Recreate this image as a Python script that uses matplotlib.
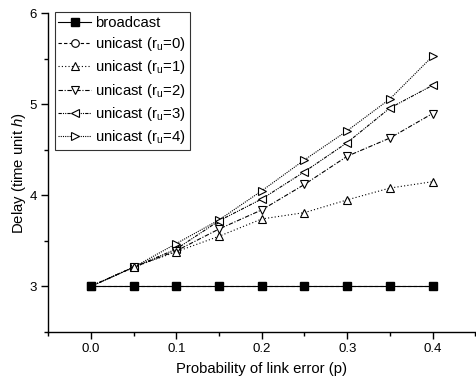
import matplotlib
matplotlib.use("Agg")
import matplotlib.pyplot as plt
from matplotlib.ticker import MultipleLocator

plt.rcParams['font.family'] = ['Liberation Sans', 'DejaVu Sans']
plt.rcParams['mathtext.fontset'] = 'custom'
plt.rcParams['mathtext.rm'] = 'Liberation Sans'
plt.rcParams['mathtext.it'] = 'Liberation Sans:italic'

p = [0.0, 0.05, 0.10, 0.15, 0.20, 0.25, 0.30, 0.35, 0.40]
broadcast = [3, 3, 3, 3, 3, 3, 3, 3, 3]
unicast_r0 = [3, 3, 3, 3, 3, 3, 3, 3, 3]
unicast_r1 = [3, 3.21, 3.38, 3.55, 3.74, 3.81, 3.95, 4.08, 4.15]
unicast_r2 = [3, 3.21, 3.39, 3.63, 3.84, 4.12, 4.43, 4.63, 4.90]
unicast_r3 = [3, 3.21, 3.41, 3.72, 3.96, 4.26, 4.58, 4.96, 5.21]
unicast_r4 = [3, 3.21, 3.47, 3.73, 4.05, 4.39, 4.71, 5.06, 5.53]

labels = ['broadcast', 'unicast (r$_{\\mathrm{u}}$=0)', 'unicast (r$_{\\mathrm{u}}$=1)',
          'unicast (r$_{\\mathrm{u}}$=2)', 'unicast (r$_{\\mathrm{u}}$=3)', 'unicast (r$_{\\mathrm{u}}$=4)']

fig = plt.figure(figsize=(4.76, 3.79), dpi=100)
ax = fig.add_axes([0.1015, 0.1248, 0.897, 0.8396])

lw = 0.8
ms = 5.5
ax.plot(p, unicast_r4, linestyle=(0, (1, 1)), color='black', lw=lw, marker='>', ms=ms,
        mfc='white', mec='black', mew=0.8, label=labels[5], zorder=3)
ax.plot(p, unicast_r3, linestyle=(0, (3, 1, 1, 1, 1, 1)), color='black', lw=lw, marker='<', ms=ms,
        mfc='white', mec='black', mew=0.8, label=labels[4], zorder=3)
ax.plot(p, unicast_r2, linestyle=(0, (4, 1.5, 1, 1.5)), color='black', lw=lw, marker='v', ms=ms,
        mfc='white', mec='black', mew=0.8, label=labels[3], zorder=3)
ax.plot(p, unicast_r1, linestyle=(0, (1, 2)), color='black', lw=lw, marker='^', ms=ms,
        mfc='white', mec='black', mew=0.8, label=labels[2], zorder=3)
ax.plot(p, unicast_r0, linestyle=(0, (3, 2)), color='black', lw=lw, marker='o', ms=ms,
        mfc='white', mec='black', mew=0.8, label=labels[1], zorder=3)
ax.plot(p, broadcast, linestyle='-', color='black', lw=lw, marker='s', ms=ms,
        mfc='black', mec='black', label=labels[0], zorder=4)

ax.set_xlim(-0.05, 0.45)
ax.set_ylim(2.5, 6)
ax.xaxis.set_major_locator(MultipleLocator(0.1))
ax.xaxis.set_minor_locator(MultipleLocator(0.05))
ax.yaxis.set_major_locator(MultipleLocator(1))
ax.yaxis.set_minor_locator(MultipleLocator(0.5))
ax.set_xticks([0.0, 0.1, 0.2, 0.3, 0.4])
ax.set_xticklabels(['0.0', '0.1', '0.2', '0.3', '0.4'])
ax.spines['top'].set_visible(False)
ax.spines['right'].set_visible(False)
for s in ['left', 'bottom']:
    ax.spines[s].set_linewidth(1.0)
ax.tick_params(which='major', direction='out', length=5, width=1.0, labelsize=9.5, pad=3)
ax.tick_params(which='minor', direction='out', length=3, width=1.0)

ax.set_xlabel('Probability of link error (p)', fontsize=10.7, labelpad=5)
ax.set_ylabel('Delay (time unit $\\it{h}$)', fontsize=10.7, labelpad=1)

h, l = ax.get_legend_handles_labels()
order = [5, 4, 3, 2, 1, 0]
leg = ax.legend([h[i] for i in order], [l[i] for i in order], loc='upper left',
                bbox_to_anchor=(54.5 / 476, 1 - 12 / 379), bbox_transform=fig.transFigure,
                fontsize=10.7, frameon=True, fancybox=False, edgecolor='black',
                handlelength=2.2, handletextpad=0.3, labelspacing=0.36,
                borderpad=0.25, borderaxespad=0.0, markerscale=1.0)
leg.get_frame().set_linewidth(0.8)

fig.savefig('out.png', dpi=100)
